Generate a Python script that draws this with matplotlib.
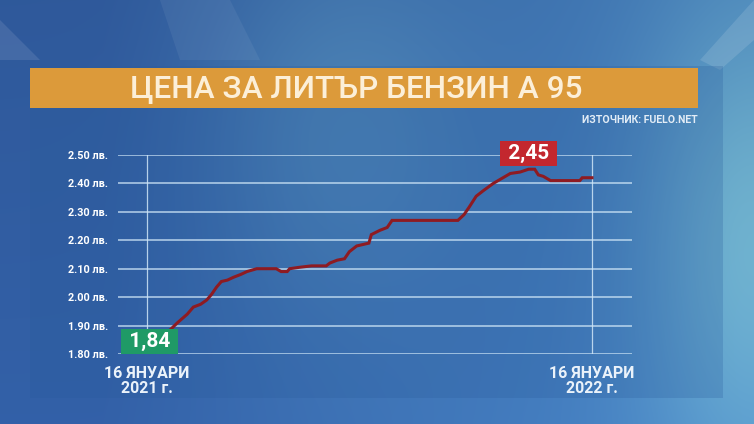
import numpy as np
import matplotlib
matplotlib.use("Agg")
import matplotlib.pyplot as plt
from matplotlib.patches import Rectangle, Polygon

# price of 1 litre A95, days since 16 Jan 2021
days = [0, 10, 19, 25, 33, 38, 44, 49, 53, 57, 61, 66, 71, 77, 82, 90, 98,
        106, 110, 115, 117, 125, 135, 147, 150, 156, 162, 166, 172, 182, 184,
        191, 197, 201, 210, 230, 255, 260, 264, 270, 276, 284, 292, 298, 306,
        313, 318, 321, 325, 331, 345, 355, 357, 365]
prices = [1.84, 1.86, 1.885, 1.91, 1.94, 1.965, 1.975, 1.99, 2.01, 2.035,
          2.055, 2.06, 2.07, 2.08, 2.09, 2.10, 2.10, 2.10, 2.09, 2.09, 2.10,
          2.105, 2.11, 2.11, 2.12, 2.13, 2.135, 2.16, 2.18, 2.19, 2.22, 2.235,
          2.245, 2.27, 2.27, 2.27, 2.27, 2.29, 2.315, 2.355, 2.375, 2.40, 2.42,
          2.435, 2.44, 2.45, 2.45, 2.43, 2.425, 2.41, 2.41, 2.41, 2.42, 2.42]
yticks = [1.80, 1.90, 2.00, 2.10, 2.20, 2.30, 2.40, 2.50]
date_labels = ["16 ЯНУАРИ\n2021 г.", "16 ЯНУАРИ\n2022 г."]
date_days = [0, 365]
start_label = "1,84"
peak_label = "2,45"
peak_day = 313

W, H = 754, 424
fig = plt.figure(figsize=(W / 100, H / 100), dpi=100)

# background gradient
bg = fig.add_axes([0, 0, 1, 1])
xx, yy = np.meshgrid(np.linspace(0, 1, W), np.linspace(0, 1, H))
c1 = np.array([0.20, 0.38, 0.66])   # dark blue
c2 = np.array([0.30, 0.55, 0.80])   # mid blue
c3 = np.array([0.45, 0.72, 0.84])   # light cyan
t = np.clip(xx * 1.1 - 0.15, 0, 1)[..., None]
img = c1 * (1 - t) + c2 * t
glow = np.exp(-((xx - 1.0) ** 2 / 0.02 + (yy - 0.55) ** 2 / 0.3))[..., None]
img = img * (1 - glow) + c3 * glow
glow2 = np.exp(-((xx - 0.45) ** 2 / 0.03 + (yy - 0.3) ** 2 / 0.2))[..., None]
img = img * (1 - 0.35 * glow2) + c3 * 0.35 * glow2
img = img * (0.92 + 0.08 * yy[..., None])
bg.imshow(np.clip(img, 0, 1), extent=[0, W, H, 0], aspect="auto")
# light streaks
for pts, a in [([(0, 20), (0, 60), (40, 60)], 0.10),
               ([(160, 0), (230, 0), (260, 60), (180, 60)], 0.06),
               ([(700, 60), (754, 0), (754, 40), (720, 70)], 0.12)]:
    bg.add_patch(Polygon(pts, closed=True, color="white", alpha=a, lw=0))
# chart panel
bg.add_patch(Rectangle((30, 66), 693, 332, color="#2a5c9c", alpha=0.25, lw=0))
# title bar
bg.add_patch(Rectangle((30, 68), 668, 40, color="#DC9A3A", lw=0))
bg.text(356, 89, "ЦЕНА ЗА ЛИТЪР БЕНЗИН А 95", color="#FCEFD8",
        fontsize=22.7, fontweight="medium", family="Roboto",
        ha="center", va="center")
bg.text(698, 120, "ИЗТОЧНИК: FUELO.NET", color="#E2ECF6", fontsize=7.6,
        fontweight="bold", family="Roboto", ha="right", va="center")
bg.set_xlim(0, W)
bg.set_ylim(H, 0)
bg.axis("off")

# chart axes: grid from x=118 to 632, 1.80 at y=354, 2.50 at y=155
ax = fig.add_axes([118 / W, (H - 354) / H, (632 - 118) / W, (354 - 155) / H])
ax.patch.set_alpha(0)
px_per_day = (592 - 147) / 365
ax.set_xlim(-(147 - 118) / px_per_day, (632 - 147) / px_per_day)
ax.set_ylim(1.80, 2.50)
grid_c = "#CFE6F7"
for v in yticks:
    ax.axhline(v, color=grid_c, lw=1.1, alpha=0.85)
for d in date_days:
    ax.axvline(d, color=grid_c, lw=0.9, alpha=0.85)
for s in ax.spines.values():
    s.set_visible(False)
ax.set_yticks(yticks)
ax.set_yticklabels([f"{v:.2f} лв." for v in yticks])
ax.set_xticks(date_days)
ax.set_xticklabels(date_labels, linespacing=0.95)
ax.tick_params(axis="y", length=0, pad=7, labelsize=7.8, labelcolor="white")
ax.tick_params(axis="x", length=0, pad=9, labelsize=11.5, labelcolor="#EAF2FA")
for lb in ax.get_yticklabels():
    lb.set_family("Roboto")
    lb.set_fontweight("bold")
for lb in ax.get_xticklabels():
    lb.set_family("Roboto")
    lb.set_fontweight("bold")

ax.plot(days, prices, color="#8E1B22", lw=2.2, solid_joinstyle="miter")

ax.annotate(" " + start_label + " ", xy=(days[0], prices[0]), xytext=(2, 0.5),
            textcoords="offset points", ha="center", va="center",
            color="white", fontsize=15, fontweight="bold", family="Roboto",
            bbox=dict(boxstyle="square,pad=0.14", fc="#1F9A66", ec="none"),
            annotation_clip=False)
ax.annotate(" " + peak_label + " ", xy=(peak_day, max(prices)), xytext=(0, 11),
            textcoords="offset points", ha="center", va="center",
            color="white", fontsize=15, fontweight="bold", family="Roboto",
            bbox=dict(boxstyle="square,pad=0.14", fc="#C3272E", ec="none"),
            annotation_clip=False)

fig.savefig("out.png", dpi=100)
